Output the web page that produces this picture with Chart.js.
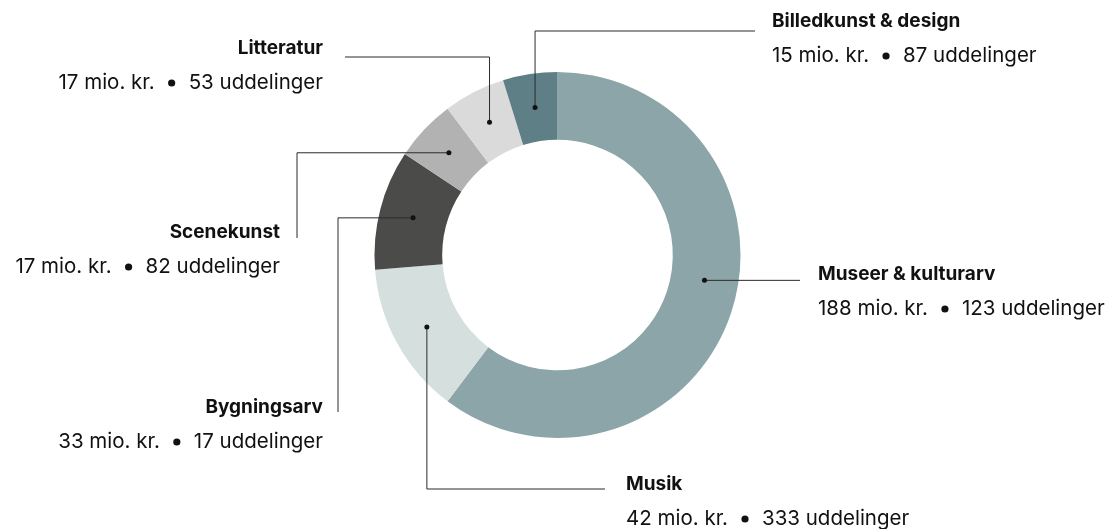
<!DOCTYPE html>
<html lang="da">
<head>
<meta charset="UTF-8">
<title>Uddelinger fordelt på kunstområder</title>
<script src="https://cdn.jsdelivr.net/npm/chart.js"></script>
<style>
    body { margin: 0; background: #ffffff; }
    #wrap { width: 1113px; height: 529px; }
</style>
</head>
<body>
<div id="wrap"><canvas id="donut" width="1113" height="529"></canvas></div>
<script>
// data (clockwise from 12 o'clock)
const areas = ['Museer & kulturarv', 'Musik', 'Bygningsarv', 'Scenekunst', 'Litteratur', 'Billedkunst & design'];
const millions = [188, 42, 33, 17, 17, 15];       // mio. kr.
const grants = [123, 333, 17, 82, 53, 87];        // uddelinger
const colours = ['#8ba5a8', '#d5dfde', '#4b4b49', '#b2b2b2', '#dadada', '#5f7f87'];

// label placement: text anchor + connector route from the dot
const callouts = [
    { x: 818, y: 274, align: 'left',  frac: 0.46, route: [['h', 800]] },
    { x: 626, y: 484, align: 'left',  frac: 0.5,  route: [['v', 489], ['h', 605]] },
    { x: 323, y: 407, align: 'right', frac: 0.5,  route: [['h', 338], ['v', 412]] },
    { x: 280, y: 232, align: 'right', frac: 0.5,  route: [['h', 297], ['v', 238]] },
    { x: 323, y: 48,  align: 'right', frac: 0.5,  route: [['v', 57], ['h', 345]] },
    { x: 772, y: 21,  align: 'left',  frac: 0.5,  route: [['v', 31], ['h', 755]] }
];

const BOLD = '700 19px Inter';
const REG = '400 20.5px Inter';
const GAP = 17;

const calloutPlugin = {
    id: 'callouts',
    afterDraw(chart) {
        const ctx = chart.ctx;
        const arcs = chart.getDatasetMeta(0).data;
        ctx.save();
        arcs.forEach((arc, i) => {
            const c = callouts[i];
            const p = arc.getProps(['x', 'y', 'startAngle', 'endAngle', 'innerRadius', 'outerRadius']);
            const a = p.startAngle + c.frac * (p.endAngle - p.startAngle);
            const r = (p.innerRadius + p.outerRadius) / 2;
            const dx = p.x + Math.cos(a) * r;
            const dy = p.y + Math.sin(a) * r;

            // connector
            let px = dx, py = dy;
            ctx.strokeStyle = '#2b2b2b';
            ctx.lineWidth = 1;
            ctx.beginPath();
            ctx.moveTo(px, py);
            c.route.forEach(leg => {
                if (leg[0] === 'h') px = leg[1]; else py = leg[1];
                ctx.lineTo(px, py);
            });
            ctx.stroke();

            // dot
            ctx.fillStyle = '#111';
            ctx.beginPath();
            ctx.arc(dx, dy, 2.5, 0, Math.PI * 2);
            ctx.fill();

            // title
            ctx.textBaseline = 'middle';
            ctx.textAlign = c.align;
            ctx.font = BOLD;
            ctx.fillText(areas[i], c.x, c.y);

            // value line: "xx mio. kr.  •  yy uddelinger"
            ctx.font = REG;
            const t1 = millions[i] + ' mio. kr.';
            const t2 = grants[i] + ' uddelinger';
            const w1 = ctx.measureText(t1).width;
            const w2 = ctx.measureText(t2).width;
            const total = w1 + GAP * 2 + w2;
            const x0 = c.align === 'right' ? c.x - total : c.x;
            const ty = c.y + 35;
            ctx.textAlign = 'left';
            ctx.fillText(t1, x0, ty);
            ctx.beginPath();
            ctx.arc(x0 + w1 + GAP, ty, 3.6, 0, Math.PI * 2);
            ctx.fill();
            ctx.fillText(t2, x0 + w1 + GAP * 2, ty);
        });
        ctx.restore();
    }
};

new Chart(document.getElementById('donut'), {
    type: 'doughnut',
    data: {
        labels: areas,
        datasets: [{
            data: millions,
            backgroundColor: colours,
            borderWidth: 0
        }]
    },
    options: {
        responsive: false,
        animation: false,
        cutout: '63%',
        layout: { padding: { top: 72, bottom: 91, left: 2, right: 0 } },
        plugins: {
            legend: { display: false },
            tooltip: { enabled: false }
        }
    },
    plugins: [calloutPlugin]
});
</script>
</body>
</html>
